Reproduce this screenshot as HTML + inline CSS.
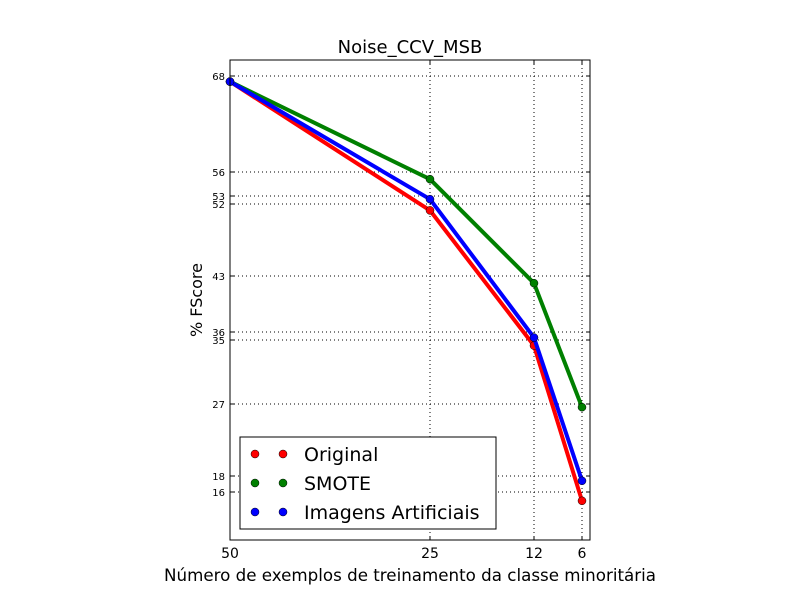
<!DOCTYPE html>
<html><head><meta charset="utf-8"><style>
body{margin:0;background:#fff;}
svg text{font-family:"DejaVu Sans","Liberation Sans",sans-serif;}
</style></head><body>
<svg id="chart" width="800" height="600"></svg>
<script>
const categories=[50,25,12,6];
const yTicks=[68,56,53,52,43,36,35,27,18,16];
const seriesNames=["Original","SMOTE","Imagens Artificiais"];
const seriesColors=["#ff0000","#008000","#0000ff"];
const original=[67.3,51.2,34.3,14.9];
const smote=[67.3,55.1,42.1,26.6];
const artificiais=[67.3,52.6,35.3,17.4];
const series=[original,smote,artificiais];

const L=230,R=590,T=60,B=540;
const xs=v=>L+(50-v)*(R-L)/45;
const ys=v=>B-(v-10)*(B-T)/60;
const NS="http://www.w3.org/2000/svg";
const svg=document.getElementById('chart');
function mk(tag,attrs,parent){const e=document.createElementNS(NS,tag);for(const k in attrs)e.setAttribute(k,attrs[k]);(parent||svg).appendChild(e);return e;}

let t=mk('text',{x:410,y:53,'font-size':18,'text-anchor':'middle'});


t.textContent='Noise_CCV_MSB';

categories.forEach(c=>{
  const x=xs(c);
  const g=mk('line',{x1:x,x2:x,y1:T,y2:B,stroke:'#000','stroke-dasharray':'1,3','stroke-width':1});
  
  
  mk('line',{x1:x,x2:x,y1:B,y2:B-4,stroke:'#000'});
  mk('line',{x1:x,x2:x,y1:T,y2:T+4,stroke:'#000'});
  const l=mk('text',{x:x,y:B+18,'font-size':14,'text-anchor':'middle'});
  
  
  l.textContent=c;
});
yTicks.forEach(v=>{
  const y=ys(v);
  const g=mk('line',{x1:L,x2:R,y1:y,y2:y,stroke:'#000','stroke-dasharray':'1,3','stroke-width':1});
  
  
  mk('line',{x1:L,x2:L+4,y1:y,y2:y,stroke:'#000'});
  mk('line',{x1:R,x2:R-4,y1:y,y2:y,stroke:'#000'});
  const l=mk('text',{x:L-5,y:y+4,'font-size':10,'text-anchor':'end'});
  
  
  l.textContent=v;
});

series.forEach((s,i)=>{
  const pts=s.map((v,j)=>xs(categories[j])+','+ys(v)).join(' ');
  const pl=mk('polyline',{points:pts,fill:'none',stroke:seriesColors[i],'stroke-width':4,'stroke-linejoin':'round'});
  
  
  s.forEach((v,j)=>{
    const c=mk('circle',{cx:xs(categories[j]),cy:ys(v),r:4,fill:seriesColors[i],stroke:'#000','stroke-width':0.5});
    
    
  });
});

const frame=mk('rect',{x:L,y:T,width:R-L,height:B-T,fill:'none',stroke:'#000','stroke-width':1});



const xl=mk('text',{x:410,y:581,'font-size':16.7,'text-anchor':'middle'});


xl.textContent='Número de exemplos de treinamento da classe minoritária';
const yl=mk('text',{x:0,y:0,'font-size':16,'text-anchor':'middle',transform:'translate(202,300) rotate(-90)'});


yl.textContent='% FScore';

const lg=mk('g',{});


mk('rect',{x:240,y:437,width:256,height:92,fill:'#fff',stroke:'#000'},lg);
seriesNames.forEach((n,i)=>{
  const y=454+i*29;
  mk('circle',{cx:255,cy:y,r:4,fill:seriesColors[i],stroke:'#000','stroke-width':0.5},lg);
  mk('circle',{cx:283,cy:y,r:4,fill:seriesColors[i],stroke:'#000','stroke-width':0.5},lg);
  const e=mk('text',{x:304,y:y+7,'font-size':19},lg);
  
  
  e.textContent=n;
});
</script>
</body></html>
